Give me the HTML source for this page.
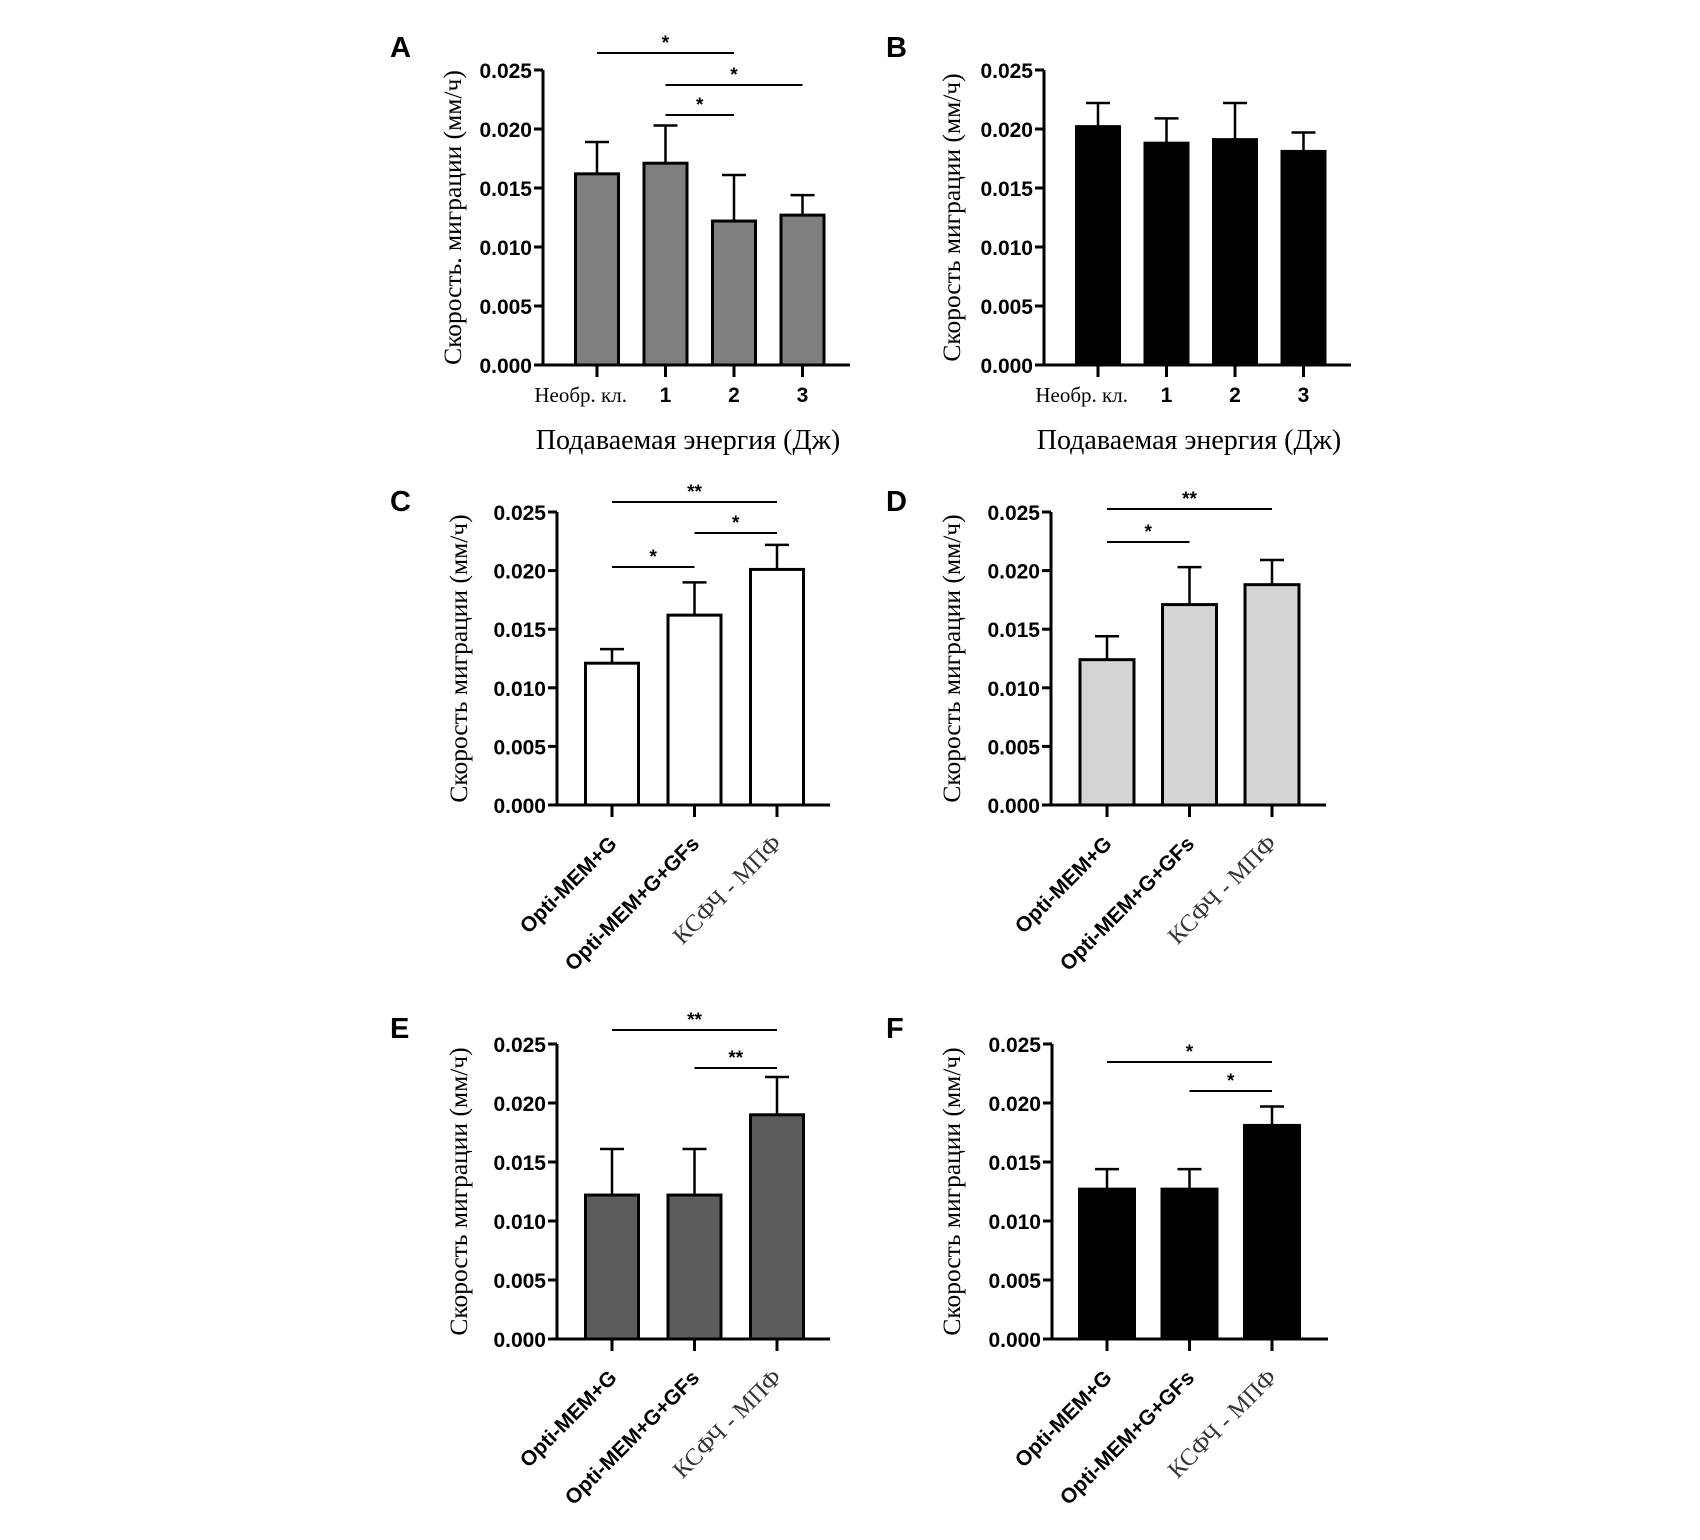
<!DOCTYPE html>
<html><head><meta charset="utf-8"><style>
html,body{margin:0;padding:0;background:#fff;}
svg{display:block;}
</style></head><body>
<svg id="fig" width="1700" height="1540" viewBox="0 0 1700 1540" xmlns="http://www.w3.org/2000/svg"></svg>
<script>
const yTicks = [0, 0.005, 0.010, 0.015, 0.020, 0.025];
const yTickLabels = ["0.000","0.005","0.010","0.015","0.020","0.025"];
const catsEnergy = ["Необр. кл.","1","2","3"];
const catsMedia = ["Opti-MEM+G","Opti-MEM+G+GFs","КСФЧ - МПФ"];
const valsA = [0.0162, 0.0171, 0.0122, 0.0127];
const errA  = [0.0189, 0.0203, 0.0161, 0.0144];
const valsB = [0.0202, 0.0188, 0.0191, 0.0181];
const errB  = [0.0222, 0.0209, 0.0222, 0.0197];
const valsC = [0.0121, 0.0162, 0.0201];
const errC  = [0.0133, 0.0190, 0.0222];
const valsD = [0.0124, 0.0171, 0.0188];
const errD  = [0.0144, 0.0203, 0.0209];
const valsE = [0.0122, 0.0122, 0.0190];
const errE  = [0.0161, 0.0161, 0.0222];
const valsF = [0.0127, 0.0127, 0.0181];
const errF  = [0.0144, 0.0144, 0.0197];
const sigA = [[0,2,"*"],[1,3,"*"],[1,2,"*"]];
const sigB = [];
const sigC = [[0,2,"**"],[1,2,"*"],[0,1,"*"]];
const sigD = [[0,2,"**"],[0,1,"*"]];
const sigE = [[0,2,"**"],[1,2,"**"]];
const sigF = [[0,2,"*"],[1,2,"*"]];

const svg = document.getElementById('fig');
const NS = "http://www.w3.org/2000/svg";
function mk(tag, attrs, parent, text){
  const e = document.createElementNS(NS, tag);
  for (const k in attrs) e.setAttribute(k, attrs[k]);
  if (text !== undefined) e.textContent = text;
  parent.appendChild(e); return e;
}

function panel(cfg){
  const g = mk('g', {}, svg);
  
  
  const ax = cfg.ax, y0 = cfg.y0, yTop = cfg.yTop;
  const yS = v => y0 - (v / 0.025) * (y0 - yTop);
  const n = cfg.vals.length;
  const xC = i => cfg.firstC + i * cfg.step;
  const L = mk('text', {x: cfg.lx, y: cfg.ly, 'font-family': 'Liberation Sans, sans-serif', 'font-weight': 'bold', 'font-size': 29}, g, cfg.letter);
  
  
  cfg.vals.forEach((v, i) => {
    const b = mk('rect', {x: xC(i) - cfg.bw/2, y: yS(v), width: cfg.bw, height: y0 - yS(v), fill: cfg.fill, stroke: '#000', 'stroke-width': 3}, g);
    
    
    const e = mk('path', {d: `M${xC(i)},${yS(v)}V${yS(cfg.err[i])}M${xC(i)-12},${yS(cfg.err[i])}H${xC(i)+12}`, stroke: '#000', 'stroke-width': 2.5, fill: 'none'}, g);
    
    
  });
  const axes = mk('path', {d: `M${ax},${yTop}V${y0}H${cfg.xEnd}`, stroke: '#000', 'stroke-width': 3, fill: 'none'}, g);
  
  
  yTicks.forEach((t, i) => {
    mk('line', {x1: ax - 9, x2: ax, y1: yS(t), y2: yS(t), stroke: '#000', 'stroke-width': 3}, g);
    const tl = mk('text', {x: ax - 11, y: yS(t) + 8, 'text-anchor': 'end', 'font-family': 'Liberation Sans, sans-serif', 'font-weight': 'bold', 'font-size': 21}, g, yTickLabels[i]);
    
    
  });
  for (let i = 0; i < n; i++) mk('line', {x1: xC(i), x2: xC(i), y1: y0, y2: y0 + 12, stroke: '#000', 'stroke-width': 3}, g);
  const ym = (y0 + yTop) / 2;
  const yt = mk('text', {x: cfg.ytx, y: ym, transform: `rotate(-90 ${cfg.ytx} ${ym})`, 'text-anchor': 'middle', 'dominant-baseline': 'middle', 'font-family': 'Liberation Serif, serif', 'font-size': 25.5}, g, cfg.ytitle);
  
  
  if (cfg.cats === catsEnergy) {
    cfg.cats.forEach((c, i) => {
      const serif = i === 0;
      const t = mk('text', {x: i === 0 ? xC(i) + 30 : xC(i), y: y0 + 37, 'text-anchor': i === 0 ? 'end' : 'middle', 'font-family': serif ? 'Liberation Serif, serif' : 'Liberation Sans, sans-serif', 'font-weight': serif ? 'normal' : 'bold', 'font-size': serif ? 21 : 21}, g, c);
      
      
    });
    const xt = mk('text', {x: ax + 145, y: y0 + 84, 'text-anchor': 'middle', 'font-family': 'Liberation Serif, serif', 'font-size': 28}, g, 'Подаваемая энергия (Дж)');
    
    
  } else {
    cfg.cats.forEach((c, i) => {
      const serif = i === 2;
      const px = xC(i) + 6, py = y0 + 40;
      const t = mk('text', {x: px, y: py, transform: `rotate(-45 ${px} ${py})`, 'text-anchor': 'end', 'font-family': serif ? 'Liberation Serif, serif' : 'Liberation Sans, sans-serif', 'font-weight': serif ? 'normal' : 'bold', 'font-size': serif ? 24 : 21, fill: serif ? '#333' : '#000'}, g, c);
      
      
    });
  }
  cfg.sig.forEach((s, k) => {
    const yy = cfg.sigY[k];
    const ln = mk('line', {x1: xC(s[0]), x2: xC(s[1]), y1: yy, y2: yy, stroke: '#000', 'stroke-width': 2}, g);
    
    
    const st = mk('text', {x: (xC(s[0]) + xC(s[1])) / 2, y: yy - 4, 'text-anchor': 'middle', 'font-family': 'Liberation Sans, sans-serif', 'font-weight': 'bold', 'font-size': 19}, g, s[2]);
    
    
  });
}

const T1 = 'Скорость. миграции (мм/ч)';
const T2 = 'Скорость миграции (мм/ч)';
panel({letter:'A', lx:390, ly:57, ax:543, y0:365, yTop:70, xEnd:850, firstC:597, step:68.5, bw:43, fill:'#7f7f7f', vals:valsA, err:errA, cats:catsEnergy, sig:sigA, sigY:[53,85,115], ytx:455, ytitle:T1});
panel({letter:'B', lx:886, ly:57, ax:1044, y0:365, yTop:70, xEnd:1351, firstC:1098, step:68.5, bw:43, fill:'#000', vals:valsB, err:errB, cats:catsEnergy, sig:sigB, sigY:[], ytx:954, ytitle:T2});
panel({letter:'C', lx:390, ly:511, ax:557, y0:805, yTop:512, xEnd:830, firstC:612, step:82.5, bw:53, fill:'#fff', vals:valsC, err:errC, cats:catsMedia, sig:sigC, sigY:[502,533,567], ytx:461, ytitle:T2});
panel({letter:'D', lx:886, ly:511, ax:1051, y0:805, yTop:512, xEnd:1326, firstC:1107, step:82.5, bw:54, fill:'#d4d4d4', vals:valsD, err:errD, cats:catsMedia, sig:sigD, sigY:[509,542], ytx:954, ytitle:T2});
panel({letter:'E', lx:390, ly:1038, ax:557, y0:1339, yTop:1044, xEnd:830, firstC:612, step:82.5, bw:53, fill:'#5c5c5c', vals:valsE, err:errE, cats:catsMedia, sig:sigE, sigY:[1030,1068], ytx:461, ytitle:T2});
panel({letter:'F', lx:886, ly:1038, ax:1052, y0:1339, yTop:1044, xEnd:1328, firstC:1107, step:82.5, bw:55, fill:'#000', vals:valsF, err:errF, cats:catsMedia, sig:sigF, sigY:[1062,1091], ytx:954, ytitle:T2});
</script>
</body></html>
